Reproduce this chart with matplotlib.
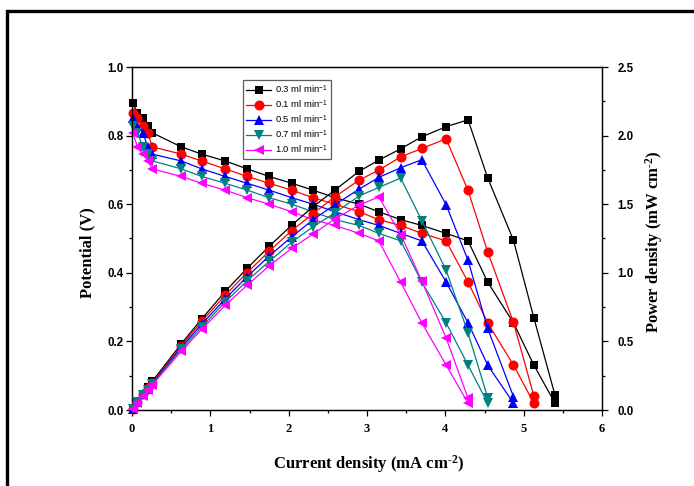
import matplotlib
matplotlib.use("Agg")
import matplotlib.pyplot as plt
from matplotlib.patches import Rectangle
from matplotlib.ticker import MultipleLocator

plt.rcParams['mathtext.fontset'] = 'custom'
plt.rcParams['mathtext.rm'] = 'Liberation Serif:bold'
plt.rcParams['mathtext.bf'] = 'Liberation Serif:bold'
plt.rcParams['mathtext.it'] = 'Liberation Serif:bold'
plt.rcParams['mathtext.sf'] = 'Liberation Sans'

# ---------------- data ----------------
labels = ["0.3 ml min", "0.1 ml min", "0.5 ml min", "0.7 ml min", "1.0 ml min"]

current_03 = [0.01, 0.07, 0.14, 0.20, 0.26, 0.63, 0.89, 1.19, 1.47, 1.75, 2.04, 2.31,
              2.59, 2.90, 3.15, 3.43, 3.70, 4.01, 4.29, 4.54, 4.87, 5.13, 5.40]
potential_03 = [0.895, 0.866, 0.851, 0.828, 0.808, 0.767, 0.746, 0.726, 0.703, 0.681, 0.661, 0.641,
                0.619, 0.600, 0.578, 0.555, 0.538, 0.515, 0.493, 0.373, 0.254, 0.131, 0.020]
power_03 = [0.009, 0.061, 0.119, 0.166, 0.210, 0.483, 0.664, 0.864, 1.033, 1.192, 1.348, 1.481,
            1.603, 1.740, 1.821, 1.904, 1.991, 2.065, 2.115, 1.693, 1.237, 0.672, 0.108]

current_01 = [0.01, 0.07, 0.14, 0.20, 0.26, 0.63, 0.89, 1.19, 1.47, 1.75, 2.04, 2.31,
              2.59, 2.90, 3.15, 3.43, 3.70, 4.01, 4.29, 4.54, 4.87, 5.13]
potential_01 = [0.866, 0.851, 0.828, 0.808, 0.767, 0.746, 0.726, 0.703, 0.681, 0.661, 0.641,
                0.619, 0.600, 0.578, 0.555, 0.538, 0.515, 0.493, 0.373, 0.254, 0.131, 0.020]
power_01 = [0.009, 0.060, 0.116, 0.162, 0.199, 0.470, 0.646, 0.837, 1.001, 1.157, 1.308,
            1.430, 1.554, 1.676, 1.748, 1.845, 1.906, 1.977, 1.600, 1.153, 0.638, 0.103]

current_05 = [0.01, 0.07, 0.14, 0.20, 0.26, 0.63, 0.89, 1.19, 1.47, 1.75, 2.04, 2.31,
              2.59, 2.90, 3.15, 3.43, 3.70, 4.01, 4.29, 4.54, 4.87]
potential_05 = [0.851, 0.828, 0.808, 0.767, 0.746, 0.726, 0.703, 0.681, 0.661, 0.641,
                0.619, 0.600, 0.578, 0.555, 0.538, 0.515, 0.493, 0.373, 0.254, 0.131, 0.020]
power_05 = [0.009, 0.058, 0.113, 0.153, 0.194, 0.457, 0.626, 0.810, 0.972, 1.122,
            1.263, 1.386, 1.497, 1.610, 1.695, 1.766, 1.824, 1.496, 1.090, 0.595, 0.097]

current_07 = [0.01, 0.07, 0.14, 0.20, 0.26, 0.63, 0.89, 1.19, 1.47, 1.75, 2.04, 2.31,
              2.59, 2.90, 3.15, 3.43, 3.70, 4.01, 4.29, 4.54]
potential_07 = [0.828, 0.808, 0.767, 0.746, 0.726, 0.703, 0.681, 0.661, 0.641, 0.619,
                0.600, 0.578, 0.555, 0.538, 0.515, 0.493, 0.373, 0.254, 0.131, 0.020]
power_07 = [0.008, 0.057, 0.107, 0.149, 0.189, 0.443, 0.606, 0.787, 0.942, 1.083,
            1.224, 1.335, 1.437, 1.560, 1.622, 1.691, 1.380, 1.019, 0.562, 0.091]

current_10 = [0.01, 0.07, 0.14, 0.20, 0.26, 0.63, 0.89, 1.19, 1.47, 1.75, 2.04, 2.31,
              2.59, 2.90, 3.15, 3.43, 3.70, 4.01, 4.29]
potential_10 = [0.808, 0.767, 0.746, 0.726, 0.703, 0.681, 0.661, 0.641, 0.619, 0.600,
                0.578, 0.555, 0.538, 0.515, 0.493, 0.373, 0.254, 0.131, 0.020]
power_10 = [0.008, 0.054, 0.104, 0.145, 0.183, 0.429, 0.588, 0.763, 0.910, 1.050,
            1.179, 1.282, 1.393, 1.494, 1.553, 1.279, 0.940, 0.525, 0.086]

x_ticks = [0, 1, 2, 3, 4, 5, 6]
left_ticks = [0.0, 0.2, 0.4, 0.6, 0.8, 1.0]
right_ticks = [0.0, 0.5, 1.0, 1.5, 2.0, 2.5]

series = [
    (current_03, potential_03, power_03, labels[0], "#000000", "s", 6.3),
    (current_01, potential_01, power_01, labels[1], "#ff0000", "o", 7.2),
    (current_05, potential_05, power_05, labels[2], "#0000ff", "^", 7.2),
    (current_07, potential_07, power_07, labels[3], "#008080", "v", 7.2),
    (current_10, potential_10, power_10, labels[4], "#ff00ff", "<", 7.2),
]

# ---------------- figure ----------------
fig = plt.figure(figsize=(6.94, 4.86), dpi=100)
ax = fig.add_axes([132/694, 76/486, 470/694, 343/486])
ax2 = ax.twinx()

handles = []
for cur, pot, pw, lab, col, mk, ms in series:
    h, = ax.plot(cur, pot, color=col, marker=mk, markersize=ms, linewidth=0.9,
                 markeredgewidth=0, label=lab + r"$^{\mathsf{-1}}$", clip_on=False, zorder=3)
    ax2.plot(cur, pw, color=col, marker=mk, markersize=ms, linewidth=0.9,
             markeredgewidth=0, clip_on=False, zorder=3)
    handles.append(h)

ax.set_xlim(0, 6)
ax.set_ylim(0, 1.0)
ax2.set_ylim(0, 2.5)
ax.set_xticks(x_ticks)
ax.set_yticks(left_ticks)
ax2.set_yticks(right_ticks)
ax.xaxis.set_minor_locator(MultipleLocator(0.5))
ax.yaxis.set_minor_locator(MultipleLocator(0.1))
ax2.yaxis.set_minor_locator(MultipleLocator(0.25))

serif_b = dict(family='Liberation Serif', weight='bold')
sans_b = dict(family='Liberation Sans', weight='bold')

ax.set_xticklabels([str(t) for t in x_ticks], fontsize=9, **serif_b)
ax.set_yticklabels(["%.1f" % t for t in left_ticks], fontsize=8.3, **sans_b)
ax2.set_yticklabels(["%.1f" % t for t in right_ticks], fontsize=8.3, **sans_b)

for a in (ax, ax2):
    a.tick_params(which='major', direction='out', length=4.0, width=0.9)
    a.tick_params(which='minor', direction='out', length=2.2, width=0.9)
    for sp in a.spines.values():
        sp.set_linewidth(0.9)
ax.tick_params(axis='x', which='both', top=False)
ax.tick_params(axis='x', which='major', pad=5)
ax.tick_params(axis='y', which='major', pad=2)
ax2.tick_params(axis='y', which='major', pad=7)

ax.set_xlabel(r"Current density (mA cm$^{\text{-2}}$)", fontsize=12, **serif_b)
ax.set_ylabel("Potential (V)", fontsize=12, **serif_b)
ax2.set_ylabel(r"Power density (mW cm$^{\text{-2}}$)", fontsize=12, **serif_b)
ax.xaxis.set_label_coords(0.504, -0.125)
ax.yaxis.set_label_coords(-0.077, 0.46)
ax2.yaxis.set_label_coords(1.088, 0.49)

leg = ax2.legend(handles=handles, loc='upper left', bbox_to_anchor=(0.236, 0.962),
                 borderaxespad=0, frameon=True, fancybox=False,
                 prop=dict(family='Liberation Sans', size=6.8),
                 handlelength=2.6, handletextpad=0.4, labelspacing=0.25,
                 borderpad=0.35, markerscale=1.0)
leg.get_frame().set_edgecolor('#333333')
leg.get_frame().set_linewidth(0.9)
leg.set_zorder(10)

# outer frame
fig.patches.append(Rectangle((7/694, -0.2), 1.5, (1 - 11/486) + 0.2, transform=fig.transFigure,
                             fill=False, edgecolor='black', linewidth=2.4, zorder=0))

fig.savefig("out.png", dpi=100)
